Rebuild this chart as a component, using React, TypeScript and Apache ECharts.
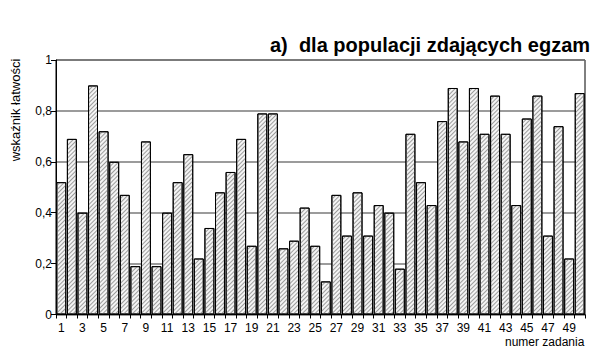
import React, { useEffect, useRef } from "react";
import * as echarts from "echarts";

// Numer zadania 1..50
const zadania: string[] = Array.from({ length: 50 }, (_, i) => String(i + 1));

// Wskaźnik łatwości dla każdego zadania
const latwosc: number[] = [
  0.52, 0.69, 0.40, 0.90, 0.72, 0.60, 0.47, 0.19, 0.68, 0.19,
  0.40, 0.52, 0.63, 0.22, 0.34, 0.48, 0.56, 0.69, 0.27, 0.79,
  0.79, 0.26, 0.29, 0.42, 0.27, 0.13, 0.47, 0.31, 0.48, 0.31,
  0.43, 0.40, 0.18, 0.71, 0.52, 0.43, 0.76, 0.89, 0.68, 0.89,
  0.71, 0.86, 0.71, 0.43, 0.77, 0.86, 0.31, 0.74, 0.22, 0.87,
];

const yTicks: number[] = [0, 0.2, 0.4, 0.6, 0.8, 1];

const tytul = "a)  dla populacji zdających egzamin";
const osY = "wskaźnik łatwości";
const osX = "numer zadania";

const FONT = "'Liberation Sans', Arial, sans-serif";

export default function App() {
  const ref = useRef<HTMLDivElement>(null);

  useEffect(() => {
    document.body.style.margin = "0";
    if (!ref.current) return;
    const chart = echarts.init(ref.current, null, { renderer: "svg" });
    chart.setOption({
      animation: false,
      backgroundColor: "#fff",
      grid: {
        left: 56,
        right: 5,
        top: 60,
        bottom: 34.5,
        show: true,
        borderColor: "#000",
        borderWidth: 1,
      },
      xAxis: {
        type: "category",
        data: zadania,
        boundaryGap: true,
        axisLine: { lineStyle: { color: "#000", width: 1 } },
        axisTick: { show: true, interval: 0, length: 4, lineStyle: { color: "#000" } },
        axisLabel: {
          interval: 1,
          margin: 7,
          color: "#000",
          fontSize: 12,
          fontFamily: FONT,
        },
      },
      yAxis: {
        type: "value",
        min: 0,
        max: 1,
        interval: 0.2,
        axisLine: { show: true, lineStyle: { color: "#000", width: 1 } },
        axisTick: { show: true, length: 5, lineStyle: { color: "#000" } },
        axisLabel: {
          margin: 4,
          color: "#000",
          fontSize: 12,
          fontFamily: FONT,
          formatter: (v: number) =>
            yTicks.includes(Math.round(v * 10) / 10) ? String(v).replace(".", ",") : "",
        },
        splitLine: { show: true, lineStyle: { color: "#7a7a7a", width: 1.5 } },
      },
      series: [
        {
          type: "bar",
          data: latwosc,
          barCategoryGap: "6%",
          itemStyle: {
            color: "#f4f4f4",
            borderColor: "#000",
            borderWidth: 1,
            decal: {
              symbol: "rect",
              color: "#9c9c9c",
              dashArrayX: [1, 0],
              dashArrayY: [1, 2],
              rotation: -Math.PI / 4,
              symbolSize: 1,
            },
          },
        },
      ],
      graphic: [
        {
          type: "text",
          x: 270,
          y: 35,
          style: {
            text: tytul,
            font: `bold 20px ${FONT}`,
            fill: "#000",
            verticalAlign: "alphabetic",
          },
        },
        {
          type: "text",
          x: 15,
          y: 110,
          rotation: Math.PI / 2,
          style: {
            text: osY,
            font: `13px ${FONT}`,
            fill: "#000",
            align: "center",
            verticalAlign: "middle",
          },
        },
        {
          type: "text",
          x: 505,
          y: 336,
          style: {
            text: osX,
            font: `12px ${FONT}`,
            fill: "#000",
            align: "left",
            verticalAlign: "top",
          },
        },
      ],
    });
    return () => chart.dispose();
  }, []);

  return <div ref={ref} style={{ width: 590, height: 349 }} />;
}
